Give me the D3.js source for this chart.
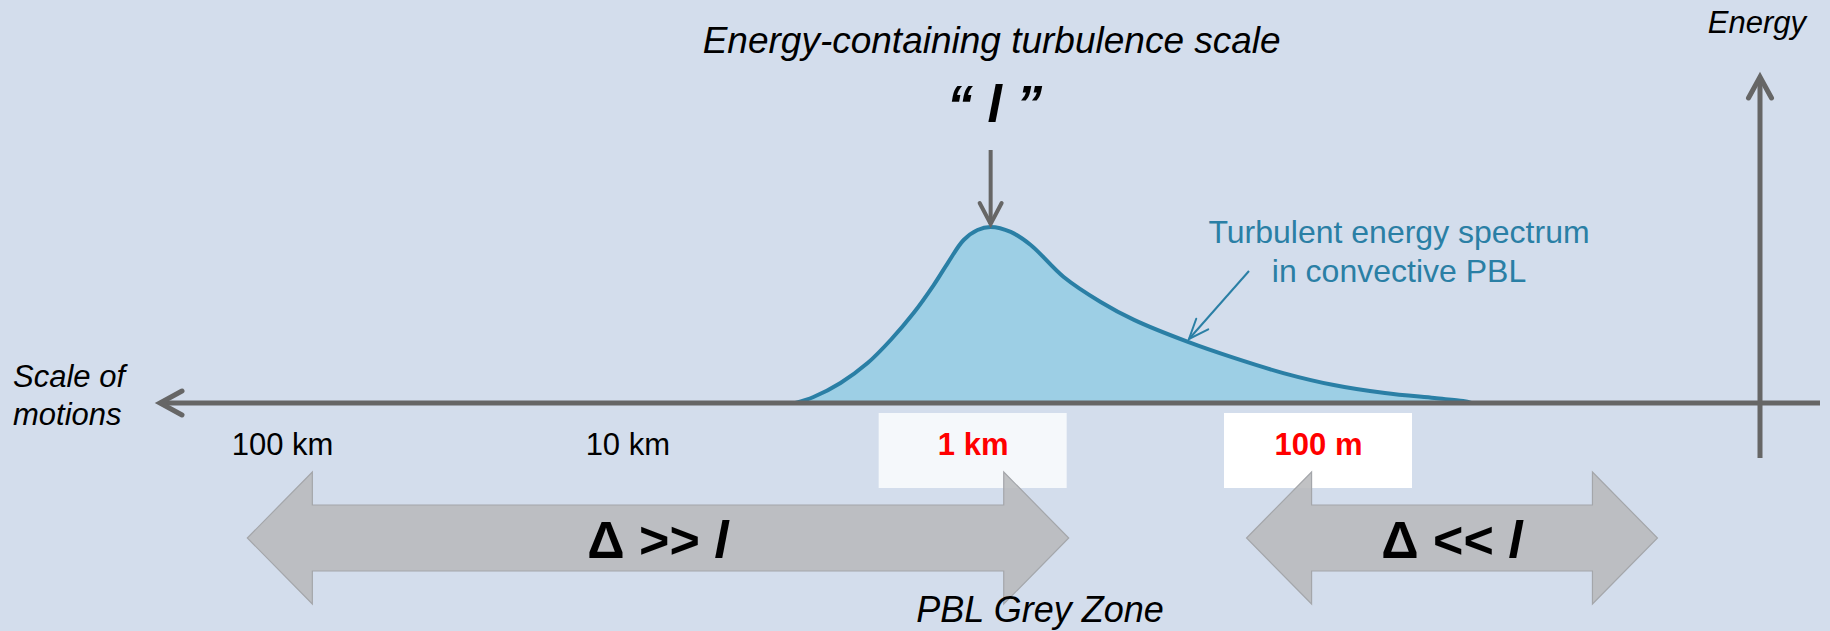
<!DOCTYPE html>
<html>
<head>
<meta charset="utf-8">
<script src="https://cdn.jsdelivr.net/npm/d3@7"></script>
<style>
  body { margin: 0; background: #d3ddec; }
  svg { display: block; font-family: "Liberation Sans", Arial, sans-serif; }
</style>
</head>
<body>
<div id="chart"></div>
<script>

// scale of motions, in metres (log axis, large scales on the left)
var tickMeters = [1e5, 1e4, 1e3, 1e2];
var tickLabels = ["100 km", "10 km", "1 km", "100 m"];
var tickHighlight = [false, false, true, true];

// turbulent energy spectrum in the convective PBL (relative energy)
var spectrumLength = [3260, 2891, 2414, 2015, 1728, 1483, 1297, 1181, 1062, 968, 887, 776, 679,
                      545, 426, 341, 238, 175, 126, 90, 64, 46, 38, 36];
var spectrumEnergy = [0, 0.034, 0.114, 0.227, 0.358, 0.511, 0.670, 0.795, 0.926, 0.983, 1.0, 0.972, 0.898,
                      0.716, 0.574, 0.472, 0.347, 0.256, 0.170, 0.102, 0.057, 0.028, 0.011, 0];

// grid spacing regimes (double arrows), metres
var regimeFrom = [126000, 161];
var regimeTo = [527, 10.4];
var regimeLabels = ["\u0394 >> ", "\u0394 << "];

var width = 1830, height = 631;
var axisColor = "#666666", teal = "#2a7fa5";

var svg = d3.select("#chart").append("svg")
    .attr("width", width)
    .attr("height", height);

svg.append("rect").attr("width", width).attr("height", height).attr("fill", "#d3ddec");

var x = d3.scaleLog().domain([1e5, 1e2]).range([282, 1318]);
var y = d3.scaleLinear().domain([0, 1]).range([403, 227]);
var axisY = y(0);

function chevron(g, tx, ty, dx, dy, len, half, color, w) {
  // open arrow head pointing along (dx,dy)
  var px = -dy, py = dx;
  g.append("path")
    .attr("d", "M" + (tx - len * dx + half * px) + "," + (ty - len * dy + half * py) +
               "L" + tx + "," + ty +
               "L" + (tx - len * dx - half * px) + "," + (ty - len * dy - half * py))
    .attr("fill", "none")
    .attr("stroke", color)
    .attr("stroke-width", w)
    .attr("stroke-linecap", "round")
    .attr("stroke-linejoin", "miter");
}

// boxes behind highlighted scales
svg.append("g").selectAll("rect")
  .data(tickMeters.filter(function(d, i) { return tickHighlight[i]; }))
  .enter().append("rect")
  .attr("x", function(d) { return x(d) - 94; })
  .attr("y", 413)
  .attr("width", 188)
  .attr("height", 75)
  .attr("fill", "#ffffff")
  .attr("opacity", function(d, i) { return i === 0 ? 0.78 : 1; });

// spectrum
var pts = spectrumLength.map(function(L, i) { return [L, spectrumEnergy[i]]; });
var curve = d3.curveCatmullRom.alpha(0.5);

svg.append("path")
  .datum(pts)
  .attr("d", d3.area().x(function(d) { return x(d[0]); }).y0(axisY).y1(function(d) { return y(d[1]); }).curve(curve))
  .attr("fill", "#9dcfe5");

svg.append("path")
  .datum(pts)
  .attr("d", d3.line().x(function(d) { return x(d[0]); }).y(function(d) { return y(d[1]); }).curve(curve))
  .attr("fill", "none")
  .attr("stroke", teal)
  .attr("stroke-width", 4);

// axes
var axes = svg.append("g");
axes.append("line").attr("x1", 160).attr("x2", 1820).attr("y1", axisY).attr("y2", axisY)
  .attr("stroke", axisColor).attr("stroke-width", 5);
chevron(axes, 160, axisY, -1, 0, 22, 12, axisColor, 5);
axes.append("line").attr("x1", 1760).attr("x2", 1760).attr("y1", 458).attr("y2", 77)
  .attr("stroke", axisColor).attr("stroke-width", 5);
chevron(axes, 1760, 77, 0, -1, 21, 11.5, axisColor, 5);

var xAxis = svg.append("g")
  .attr("transform", "translate(0," + axisY + ")")
  .call(d3.axisBottom(x).tickValues(tickMeters).tickSize(0).tickPadding(30)
    .tickFormat(function(d, i) { return tickLabels[i]; }));
xAxis.select(".domain").remove();
xAxis.selectAll("text")
  .attr("font-family", "Liberation Sans, Arial, sans-serif")
  .attr("font-size", 31)
  .attr("font-weight", function(d, i) { return tickHighlight[i] ? "bold" : "normal"; })
  .attr("fill", function(d, i) { return tickHighlight[i] ? "#ff0000" : "#000000"; });

// regime double arrows
var cy = 538, hl = 65, hh = 66, bh = 33;
var regimes = svg.append("g").selectAll("g")
  .data(regimeLabels)
  .enter().append("g");

regimes.append("path")
  .attr("d", function(d, i) {
    var x0 = x(regimeFrom[i]), x1 = x(regimeTo[i]);
    return "M" + x0 + "," + cy +
      "L" + (x0 + hl) + "," + (cy - hh) + "L" + (x0 + hl) + "," + (cy - bh) +
      "L" + (x1 - hl) + "," + (cy - bh) + "L" + (x1 - hl) + "," + (cy - hh) +
      "L" + x1 + "," + cy +
      "L" + (x1 - hl) + "," + (cy + hh) + "L" + (x1 - hl) + "," + (cy + bh) +
      "L" + (x0 + hl) + "," + (cy + bh) + "L" + (x0 + hl) + "," + (cy + hh) + "Z";
  })
  .attr("fill", "#b8b9bc")
  .attr("fill-opacity", 0.88)
  .attr("stroke", "#a4a6aa")
  .attr("stroke-width", 1.2);

var rt = regimes.append("text")
  .attr("x", function(d, i) { return (x(regimeFrom[i]) + x(regimeTo[i])) / 2; })
  .attr("y", 558)
  .attr("text-anchor", "middle")
  .attr("font-size", 52)
  .attr("font-weight", "bold")
  .attr("fill", "#000");
rt.append("tspan").text(function(d) { return d; });
rt.append("tspan").attr("font-style", "italic").text("l");

// labels
function label(txt, lx, ly, size, anchor, style, weight, color) {
  return svg.append("text")
    .attr("x", lx).attr("y", ly)
    .attr("font-size", size)
    .attr("text-anchor", anchor)
    .attr("font-style", style)
    .attr("font-weight", weight)
    .attr("fill", color)
    .text(txt);
}

var peakIdx = d3.maxIndex(spectrumEnergy);
var peakX = x(spectrumLength[peakIdx]);

label("Energy-containing turbulence scale", peakX + 1, 53, 37, "middle", "italic", "normal", "#000");
label("\u201C l \u201D", peakX + 4, 122, 52, "middle", "italic", "bold", "#000");

svg.append("line").attr("x1", peakX).attr("x2", peakX).attr("y1", 150).attr("y2", y(1) - 3)
  .attr("stroke", axisColor).attr("stroke-width", 4);
chevron(svg, peakX, y(1) - 3, 0, 1, 21, 11, axisColor, 4);

label("Turbulent energy spectrum", 1399, 243, 32, "middle", "normal", "normal", teal);
label("in convective PBL", 1399, 282, 32, "middle", "normal", "normal", teal);
svg.append("line").attr("x1", 1249).attr("y1", 271).attr("x2", 1189).attr("y2", 339)
  .attr("stroke", teal).attr("stroke-width", 2);
chevron(svg, 1189, 339, -60 / 90.7, 68 / 90.7, 20, 8, teal, 2);

label("Energy", 1806, 33, 31, "end", "italic", "normal", "#000");
label("Scale of", 13, 387, 31, "start", "italic", "normal", "#000");
label("motions", 13, 425, 31, "start", "italic", "normal", "#000");
label("PBL Grey Zone", 1040, 622, 36, "middle", "italic", "normal", "#000");

</script>
</body>
</html>
